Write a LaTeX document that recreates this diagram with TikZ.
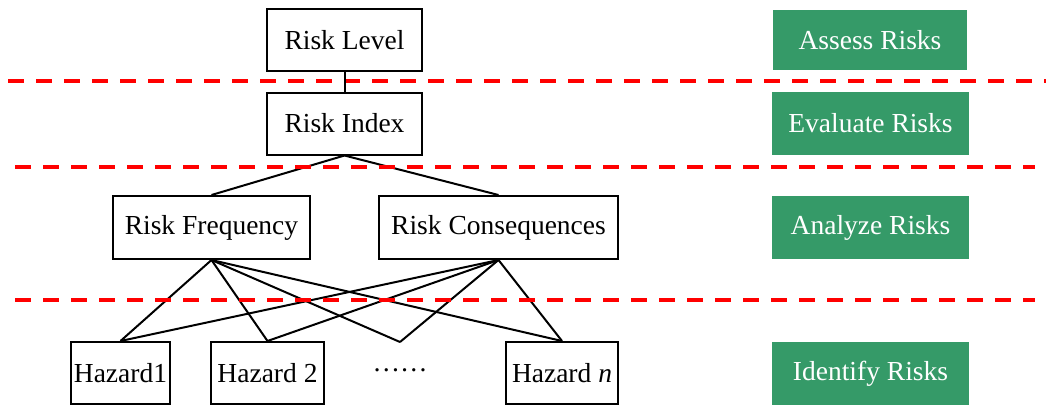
\documentclass[tikz,border=0pt]{standalone}
\usepackage{fontspec}
\setmainfont{Liberation Serif}
\definecolor{stepgreen}{RGB}{53,154,104}
\definecolor{sepred}{RGB}{255,0,0}
\begin{document}
\begin{tikzpicture}[x=1pt,y=-1pt,
  thick,main node/.style={rectangle,draw,line width=2pt,inner sep=0pt,font=\fontsize{27.5pt}{32pt}\selectfont},
  green node/.style={rectangle,fill=stepgreen,inner sep=0pt,text=white,minimum width=197pt,minimum height=63pt,font=\fontsize{27.5pt}{32pt}\selectfont},
  sep line/.style={draw=sepred,line width=4pt,dash pattern=on 16pt off 12pt}]

  \useasboundingbox (0,0) rectangle (1046,405);

  \node[main node,minimum width=155pt,minimum height=62pt] (level) at (344.5,40) {Risk Level};
  \node[main node,minimum width=155pt,minimum height=62pt] (index) at (344.5,123.5) {Risk Index};
  \node[main node,minimum width=197pt,minimum height=63pt] (freq) at (211.5,227.5) {Risk Frequency};
  \node[main node,minimum width=239pt,minimum height=63pt] (cons) at (498.5,227.5) {Risk Consequences};
  \node[main node,minimum width=99pt,minimum height=62pt] (h1) at (120.5,373) {Hazard1};
  \node[main node,minimum width=113pt,minimum height=62pt] (h2) at (267.5,373) {Hazard 2};
  \node[font=\fontsize{27.5pt}{32pt}\selectfont,inner sep=0pt,anchor=base] (dots) at (400,371) {……};
  \coordinate (dtop) at (400,342);
  \node[main node,minimum width=112pt,minimum height=62pt] (hn) at (562,373) {Hazard \textit{n}};

  \node[green node,minimum width=194pt,minimum height=60pt] (assess) at (870,40) {Assess Risks};
  \node[green node] (evaluate) at (870.5,123.5) {Evaluate Risks};
  \node[green node] (analyze) at (870.5,227.5) {Analyze Risks};
  \node[green node] (identify) at (870.5,373.5) {Identify Risks};

  \path[sep line] (8,80.5) -- (1046,80.5);

  \path[line width=2pt]
   (level) edge (index)
   (index.south) edge (freq.north)
   (index.south) edge (cons.north)
   (freq.south) edge (h1.north)
   (freq.south) edge (h2.north)
   (freq.south) edge (dtop)
   (freq.south) edge (hn.north)
   (cons.south) edge (h1.north)
   (cons.south) edge (h2.north)
   (cons.south) edge (dtop)
   (cons.south) edge (hn.north);

  \path[sep line] (15,167) -- (1035,167);
  \path[sep line] (15,300) -- (1035,300);
\end{tikzpicture}
\end{document}
